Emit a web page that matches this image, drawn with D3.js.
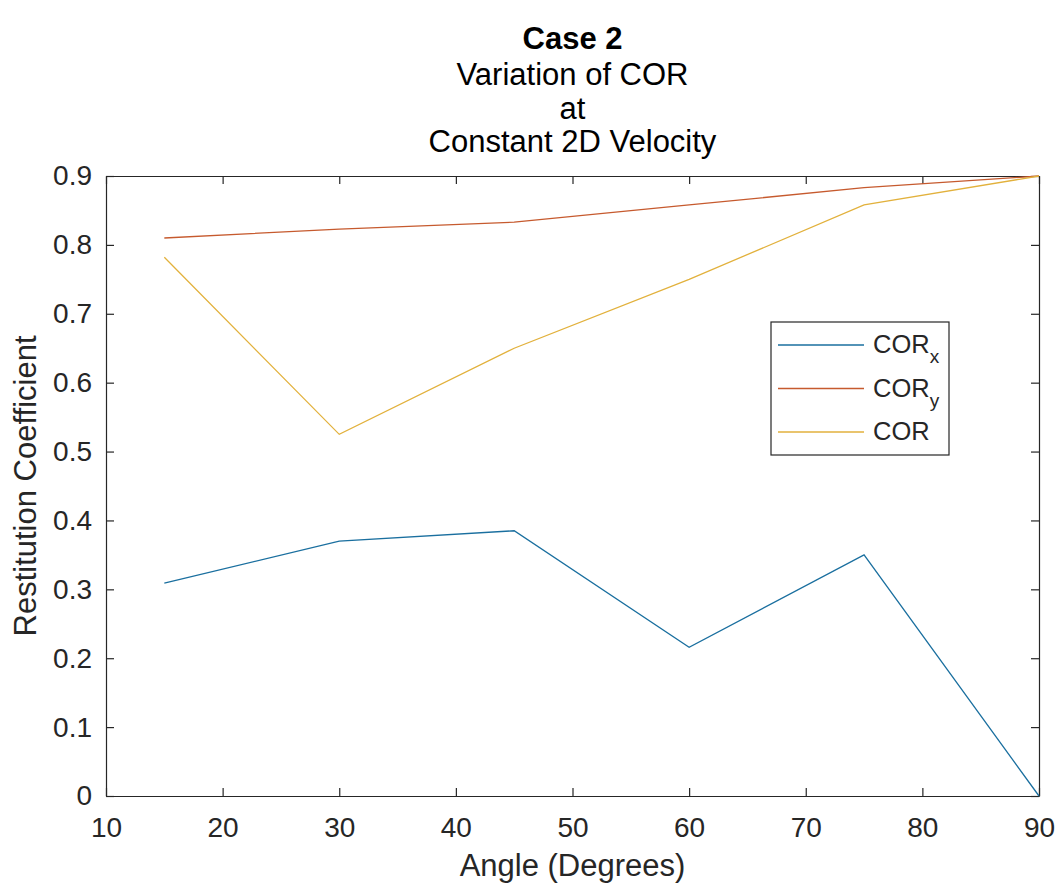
<!DOCTYPE html>
<html>
<head>
<meta charset="utf-8">
<script src="https://cdn.jsdelivr.net/npm/d3@7/dist/d3.min.js"></script>
<style>
  html, body { margin: 0; padding: 0; background: #fff; }
  svg { display: block; font-family: "Liberation Sans", Arial, Helvetica, sans-serif; }
</style>
</head>
<body>
<svg id="chart" width="1060" height="888"></svg>
<script>
// Impact angle (degrees) and measured restitution coefficients
const angles = [15, 30, 45, 60, 75, 90];
const corX   = [0.309, 0.370, 0.385, 0.216, 0.350, 0.000];
const corY   = [0.810, 0.823, 0.833, 0.858, 0.883, 0.900];
const corAll = [0.782, 0.525, 0.650, 0.750, 0.858, 0.900];

const xTicks = [10, 20, 30, 40, 50, 60, 70, 80, 90];
const yTicks = [0, 0.1, 0.2, 0.3, 0.4, 0.5, 0.6, 0.7, 0.8, 0.9];

const titleLines = ["Variation of COR", "at", "Constant 2D Velocity"];

const series = [
  { name: "COR", sub: "x", values: corX,   color: "#1a6f9f" },
  { name: "COR", sub: "y", values: corY,   color: "#c65a2e" },
  { name: "COR", sub: "",  values: corAll, color: "#e2b13c" }
];

const svg = d3.select("#chart");
const m = { left: 106, right: 1039, top: 176, bottom: 796 };
const axisColor = "#262626";

const x = d3.scaleLinear().domain([10, 90]).range([m.left, m.right]);
const y = d3.scaleLinear().domain([0, 0.9]).range([m.bottom, m.top]);

const tickFont = 28;
const labelFont = 31;
const titleFont = 31;

// Bottom axis with labels, ticks pointing inward
const gx = svg.append("g")
  .attr("transform", `translate(0,${m.bottom})`)
  .call(d3.axisBottom(x).tickValues(xTicks).tickSizeInner(-8).tickSizeOuter(0).tickPadding(21).tickFormat(d3.format("d")));
// Left axis with labels
const gy = svg.append("g")
  .attr("transform", `translate(${m.left},0)`)
  .call(d3.axisLeft(y).tickValues(yTicks).tickSizeInner(-8).tickSizeOuter(0).tickPadding(14)
        .tickFormat(d => d === 0 ? "0" : d3.format(".1f")(d)));
// Top and right axes: ticks only (box outline)
const gxt = svg.append("g")
  .attr("transform", `translate(0,${m.top})`)
  .call(d3.axisTop(x).tickValues(xTicks).tickSizeInner(-8).tickSizeOuter(0).tickFormat(""));
const gyr = svg.append("g")
  .attr("transform", `translate(${m.right},0)`)
  .call(d3.axisRight(y).tickValues(yTicks).tickSizeInner(-8).tickSizeOuter(0).tickFormat(""));

[gx, gy, gxt, gyr].forEach(g => {
  g.select(".domain").attr("stroke", axisColor).attr("stroke-width", 1.2);
  g.selectAll(".tick line").attr("stroke", axisColor).attr("stroke-width", 1.2);
  g.selectAll(".tick text").attr("fill", axisColor).attr("font-size", tickFont)
    .attr("font-family", "Liberation Sans, Arial, sans-serif");
});

// Data lines
const line = d3.line().x((d, i) => x(angles[i])).y(d => y(d));
series.forEach(s => {
  svg.append("path")
    .datum(s.values)
    .attr("fill", "none")
    .attr("stroke", s.color)
    .attr("stroke-width", 1.3)
    .attr("d", line);
});

// Titles
const cx = (m.left + m.right) / 2;
svg.append("text")
  .attr("x", cx).attr("y", 49)
  .attr("text-anchor", "middle").attr("font-size", titleFont).attr("font-weight", "bold")
  .attr("fill", "#000").text("Case 2");
titleLines.forEach((t, i) => {
  svg.append("text")
    .attr("x", cx).attr("y", 85 + i * 33.5)
    .attr("text-anchor", "middle").attr("font-size", titleFont)
    .attr("fill", "#000").text(t);
});

// Axis labels
svg.append("text")
  .attr("x", cx).attr("y", 876)
  .attr("text-anchor", "middle").attr("font-size", labelFont)
  .attr("fill", axisColor).text("Angle (Degrees)");
svg.append("text")
  .attr("transform", `translate(36,${(m.top + m.bottom) / 2}) rotate(-90)`)
  .attr("text-anchor", "middle").attr("font-size", labelFont)
  .attr("fill", axisColor).text("Restitution Coefficient");

// Legend
const lg = { x0: 771, x1: 949, y0: 322, y1: 455 };
svg.append("rect")
  .attr("x", lg.x0).attr("y", lg.y0)
  .attr("width", lg.x1 - lg.x0).attr("height", lg.y1 - lg.y0)
  .attr("fill", "#fff").attr("stroke", axisColor).attr("stroke-width", 1.2);
const rowY = d3.scalePoint().domain(d3.range(series.length)).range([345, 432]);
series.forEach((s, i) => {
  const yy = rowY(i);
  svg.append("line")
    .attr("x1", 778).attr("x2", 864).attr("y1", yy).attr("y2", yy)
    .attr("stroke", s.color).attr("stroke-width", 1.3);
  const t = svg.append("text")
    .attr("x", 873).attr("y", yy + 8)
    .attr("font-size", 25.5).attr("fill", axisColor);
  t.append("tspan").text(s.name);
  if (s.sub) {
    t.append("tspan").attr("dy", 10).attr("font-size", 19).text(s.sub);
  }
});
</script>
</body>
</html>
